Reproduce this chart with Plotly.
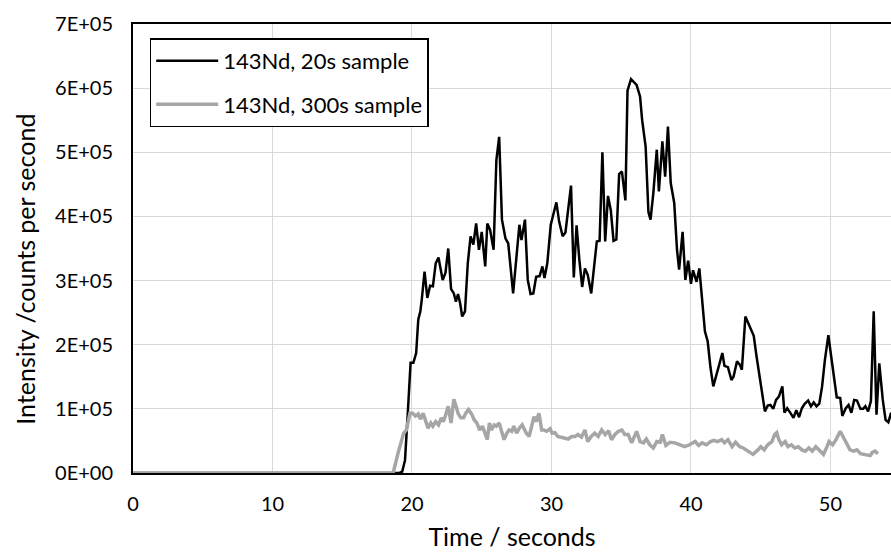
import plotly.graph_objects as go

# 143Nd, 20s sample (time in s, intensity in counts per second)
t_20s = [0, 19.1, 19.3, 19.5, 19.7, 19.9, 20.1, 20.3, 20.45, 20.6, 20.7, 20.9, 21.1, 21.3, 21.5, 21.7, 21.9,
         22.2, 22.4, 22.6, 22.8, 23.0, 23.15, 23.3, 23.45, 23.6, 23.8, 24.0, 24.2, 24.4, 24.6, 24.8, 25.0,
         25.25, 25.4, 25.6, 25.85, 26.05, 26.25, 26.45, 26.7, 26.9, 27.25, 27.45, 27.7, 27.85, 28.1, 28.3,
         28.5, 28.7, 28.9, 29.15, 29.35, 29.5, 29.7, 29.95, 30.35, 30.55, 30.8, 31.0, 31.4, 31.6, 31.8, 32.0,
         32.2, 32.4, 32.6, 32.85, 33.05, 33.25, 33.45, 33.65, 33.85, 34.05, 34.25, 34.45, 34.65, 34.85, 35.05,
         35.3, 35.45, 35.7, 36.1, 36.35, 36.5, 36.75, 36.95, 37.1, 37.3, 37.55, 37.7, 37.95, 38.15, 38.35, 38.55,
         38.8, 39.0, 39.15, 39.4, 39.6, 39.8, 40.0, 40.15, 40.4, 40.6, 40.75, 41.0, 41.2, 41.4, 41.6, 41.85,
         42.05, 42.25, 42.4, 42.65, 42.9, 43.05, 43.3, 43.5, 43.65, 43.9, 44.1, 44.3, 44.5, 44.7, 44.9, 45.05,
         45.3, 45.5, 45.7, 45.9, 46.1, 46.3, 46.55, 46.7, 46.9, 47.15, 47.35, 47.55, 47.75, 47.95, 48.15, 48.4,
         48.6, 48.8, 49.0, 49.2, 49.4, 49.6, 49.85, 50.05, 50.25, 50.45, 50.7, 50.85, 51.1, 51.3, 51.5, 51.7,
         51.9, 52.15, 52.35, 52.5, 52.7, 52.9, 53.1, 53.3, 53.5, 53.75, 53.95, 54.15, 54.35]
i_20s = [0, 0, 2000, 20000, 94000, 172000, 172000, 187000, 239000, 252000, 270000, 314000, 273000, 292000,
         291000, 327000, 336000, 301000, 312000, 350000, 287000, 280000, 267000, 279000, 265000, 244000, 252000,
         327000, 369000, 356000, 389000, 348000, 376000, 322000, 389000, 379000, 348000, 488000, 524000, 395000,
         366000, 358000, 280000, 330000, 387000, 363000, 395000, 301000, 279000, 280000, 306000, 307000, 322000,
         304000, 327000, 387000, 422000, 392000, 369000, 375000, 448000, 305000, 386000, 332000, 290000, 319000,
         309000, 280000, 322000, 361000, 362000, 500000, 361000, 432000, 410000, 362000, 364000, 466000, 470000,
         425000, 596000, 614000, 605000, 587000, 550000, 509000, 407000, 395000, 436000, 504000, 439000, 517000,
         462000, 540000, 452000, 421000, 348000, 317000, 376000, 301000, 331000, 295000, 316000, 298000, 319000,
         280000, 221000, 205000, 164000, 135000, 153000, 171000, 187000, 167000, 165000, 145000, 150000, 174000,
         169000, 161000, 244000, 234000, 223000, 214000, 182000, 155000, 135000, 96000, 105000, 106000, 100000,
         114000, 119000, 135000, 94000, 101000, 93000, 86000, 98000, 87000, 101000, 108000, 113000, 104000,
         110000, 104000, 108000, 135000, 176000, 215000, 182000, 145000, 118000, 117000, 89000, 101000, 106000,
         94000, 114000, 113000, 100000, 100000, 104000, 96000, 112000, 252000, 91000, 171000, 114000, 83000,
         79000, 94000]

# 143Nd, 300s sample
t_300s = [0, 18.65, 19.0, 19.4, 19.6, 19.85, 20.05, 20.25, 20.45, 20.6, 20.8, 21.0, 21.15, 21.35, 21.5, 21.7,
          21.9, 22.1, 22.25, 22.45, 22.6, 22.8, 23.0, 23.15, 23.3, 23.5, 23.7, 23.85, 24.05, 24.3, 24.45, 24.65,
          24.85, 25.05, 25.2, 25.4, 25.55, 25.7, 25.9, 26.05, 26.25, 26.4, 26.6, 26.8, 26.95, 27.15, 27.3, 27.5,
          27.7, 27.9, 28.05, 28.2, 28.4, 28.55, 28.75, 28.9, 29.1, 29.3, 29.45, 29.65, 29.9, 30.05, 30.25, 30.45,
          30.7, 30.95, 31.2, 31.45, 31.7, 31.9, 32.15, 32.4, 32.6, 32.85, 33.1, 33.35, 33.6, 33.85, 34.1, 34.3,
          34.55, 34.8, 35.05, 35.25, 35.5, 35.75, 36.1, 36.35, 36.6, 36.8, 37.05, 37.3, 37.55, 37.8, 37.95, 38.2,
          38.5, 38.85, 39.2, 39.55, 39.9, 40.3, 40.55, 40.8, 41.1, 41.4, 41.65, 41.9, 42.2, 42.4, 42.65, 42.95,
          43.2, 43.5, 43.75, 44.05, 44.45, 44.8, 45.0, 45.25, 45.5, 45.8, 46.0, 46.15, 46.3, 46.5, 46.75, 46.95,
          47.2, 47.45, 47.7, 47.95, 48.2, 48.45, 48.7, 48.95, 49.2, 49.5, 49.75, 49.9, 50.15, 50.4, 50.7, 50.95,
          51.2, 51.4, 51.65, 51.9, 52.15, 52.35, 52.6, 52.85, 53.0, 53.2, 53.4]
i_300s = [0, 0, 31000, 62000, 67000, 93000, 93000, 89000, 92000, 84000, 93000, 78000, 70000, 78000, 73000,
          80000, 75000, 86000, 80000, 93000, 104000, 78000, 115000, 105000, 93000, 86000, 86000, 93000, 99000,
          91000, 83000, 78000, 67000, 73000, 62000, 52000, 78000, 67000, 75000, 73000, 78000, 67000, 52000,
          62000, 67000, 65000, 73000, 62000, 70000, 75000, 67000, 62000, 57000, 73000, 88000, 80000, 93000,
          67000, 67000, 65000, 69000, 62000, 63000, 57000, 56000, 55000, 53000, 57000, 57000, 60000, 56000,
          67000, 49000, 57000, 62000, 57000, 67000, 60000, 66000, 52000, 60000, 65000, 67000, 60000, 60000,
          47000, 65000, 49000, 47000, 53000, 44000, 39000, 49000, 48000, 60000, 43000, 48000, 47000, 44000,
          41000, 44000, 49000, 43000, 47000, 44000, 49000, 51000, 49000, 52000, 47000, 52000, 41000, 48000,
          41000, 39000, 34000, 29000, 36000, 41000, 36000, 44000, 49000, 60000, 63000, 52000, 44000, 49000,
          41000, 44000, 39000, 41000, 36000, 34000, 39000, 34000, 41000, 36000, 29000, 41000, 49000, 44000,
          52000, 65000, 55000, 44000, 36000, 34000, 36000, 30000, 29000, 27000, 27000, 32000, 34000, 30000]

x_ticks = [0, 10, 20, 30, 40, 50]
y_ticks = [0, 100000, 200000, 300000, 400000, 500000, 600000, 700000]
y_tick_text = ["0E+00", "1E+05", "2E+05", "3E+05", "4E+05", "5E+05", "6E+05", "7E+05"]

FONT = "Lato, 'Open Sans', sans-serif"

fig = go.Figure()
fig.add_trace(go.Scatter(x=t_20s, y=i_20s, mode="lines", name="143Nd, 20s sample",
                         legendgroup="a", line=dict(color="#000000", width=2.5)))
fig.add_trace(go.Scatter(x=t_300s, y=i_300s, mode="lines", name="143Nd, 300s sample",
                         legendgroup="b", line=dict(color="#A6A6A6", width=3.5)))

fig.update_layout(
    width=891, height=554,
    margin=dict(l=133, r=0, t=24, b=81),
    paper_bgcolor="white", plot_bgcolor="white",
    font=dict(family=FONT, size=20, color="#000000"),
    showlegend=True,
    legend=dict(x=0.022, y=0.968, xanchor="left", yanchor="top",
                bordercolor="#000000", borderwidth=1.5, bgcolor="white",
                font=dict(family=FONT, size=22, color="#000000"),
                tracegroupgap=12, itemwidth=62),
    xaxis=dict(range=[0, 54.34], tickvals=x_ticks, ticktext=[str(v) for v in x_ticks],
               showgrid=True, gridcolor="#D9D9D9", gridwidth=1,
               showline=True, linecolor="#000000", linewidth=2, mirror=True,
               ticks="outside", ticklen=12, tickcolor="rgba(0,0,0,0)",
               zeroline=False,
               title=dict(text="Time / seconds", font=dict(family=FONT, size=25), standoff=14),
               tickfont=dict(family=FONT, size=20)),
    yaxis=dict(range=[0, 700000], tickvals=y_ticks, ticktext=y_tick_text,
               showgrid=True, gridcolor="#D9D9D9", gridwidth=1,
               showline=True, linecolor="#000000", linewidth=2, mirror=False,
               ticks="outside", ticklen=14, tickcolor="rgba(0,0,0,0)",
               zeroline=False, tickfont=dict(family=FONT, size=20)),
    annotations=[dict(text="Intensity /counts per second", textangle=-90,
                      xref="paper", yref="paper", x=-0.1425, y=0.455,
                      xanchor="center", yanchor="middle", showarrow=False,
                      font=dict(family=FONT, size=25, color="#000000"))],
)

fig.write_html("out.html")
